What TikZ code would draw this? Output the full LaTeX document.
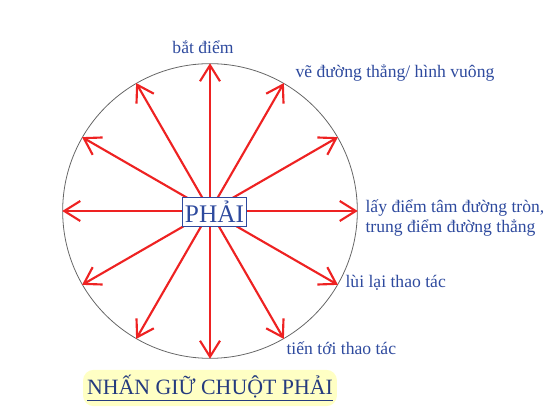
\documentclass[tikz,border=0pt]{standalone}
\usepackage{fontspec}
\setmainfont{Liberation Serif}
\usepackage{xcolor}
\usetikzlibrary{positioning, arrows.meta}
\definecolor{labelblue}{HTML}{2E4A9E}
\definecolor{arrowred}{HTML}{EE2222}
\definecolor{hilite}{HTML}{FFFFC4}

\begin{document}
\begin{tikzpicture}[
  x=0.75pt, y=-0.75pt,
  redarrow/.style={-{Straight Barb[length=12pt, width=15pt]}, line width=1.6pt, arrowred},
  rimstyle/.style={draw, gray!80!black, line width=0.6pt, circle, inner sep=0pt,
    minimum size=221pt},
  lbl/.style={font=\fontsize{13.2}{15}\selectfont, text=labelblue, inner sep=1pt},
  centerbox/.style={draw=labelblue, fill=white, line width=0.7pt, inner xsep=2pt,
    inner ysep=3pt, font=\fontsize{19}{21}\selectfont, text=labelblue},
]
\useasboundingbox (0,0) rectangle (550,409);

% ===== Circle and arrows =====
\coordinate (c) at (210,211);
\node[rimstyle] (rim) at (c) {};
\foreach \a in {0,30,...,330}
  \draw[redarrow] (c) -- (rim.\a);

% Center label
\node[centerbox] (center) at (214.5,212) {PHẢI};

% ===== Labels =====
\node[lbl] (snap) at (203,47) {bắt điểm};
\node[lbl, anchor=west] (line) at (294,73) {vẽ đường thẳng/ hình vuông};
\node[lbl, anchor=west, align=left] (midpt) at (364,218)
  {lấy điểm tâm đường tròn,\\trung điểm đường thẳng};
\node[lbl, anchor=west] (undo) at (344,283) {lùi lại thao tác};
\node[lbl, anchor=west] (redo) at (285,348) {tiến tới thao tác};

% Title
\node[fill=hilite, rounded corners=8pt, inner xsep=3pt, inner ysep=4pt,
  font=\fontsize{16.4}{18}\selectfont, text=labelblue!80!black] (title) at (210,388)
  {\underline{NHẤN GIỮ CHUỘT PHẢI}};

\end{tikzpicture}
\end{document}
